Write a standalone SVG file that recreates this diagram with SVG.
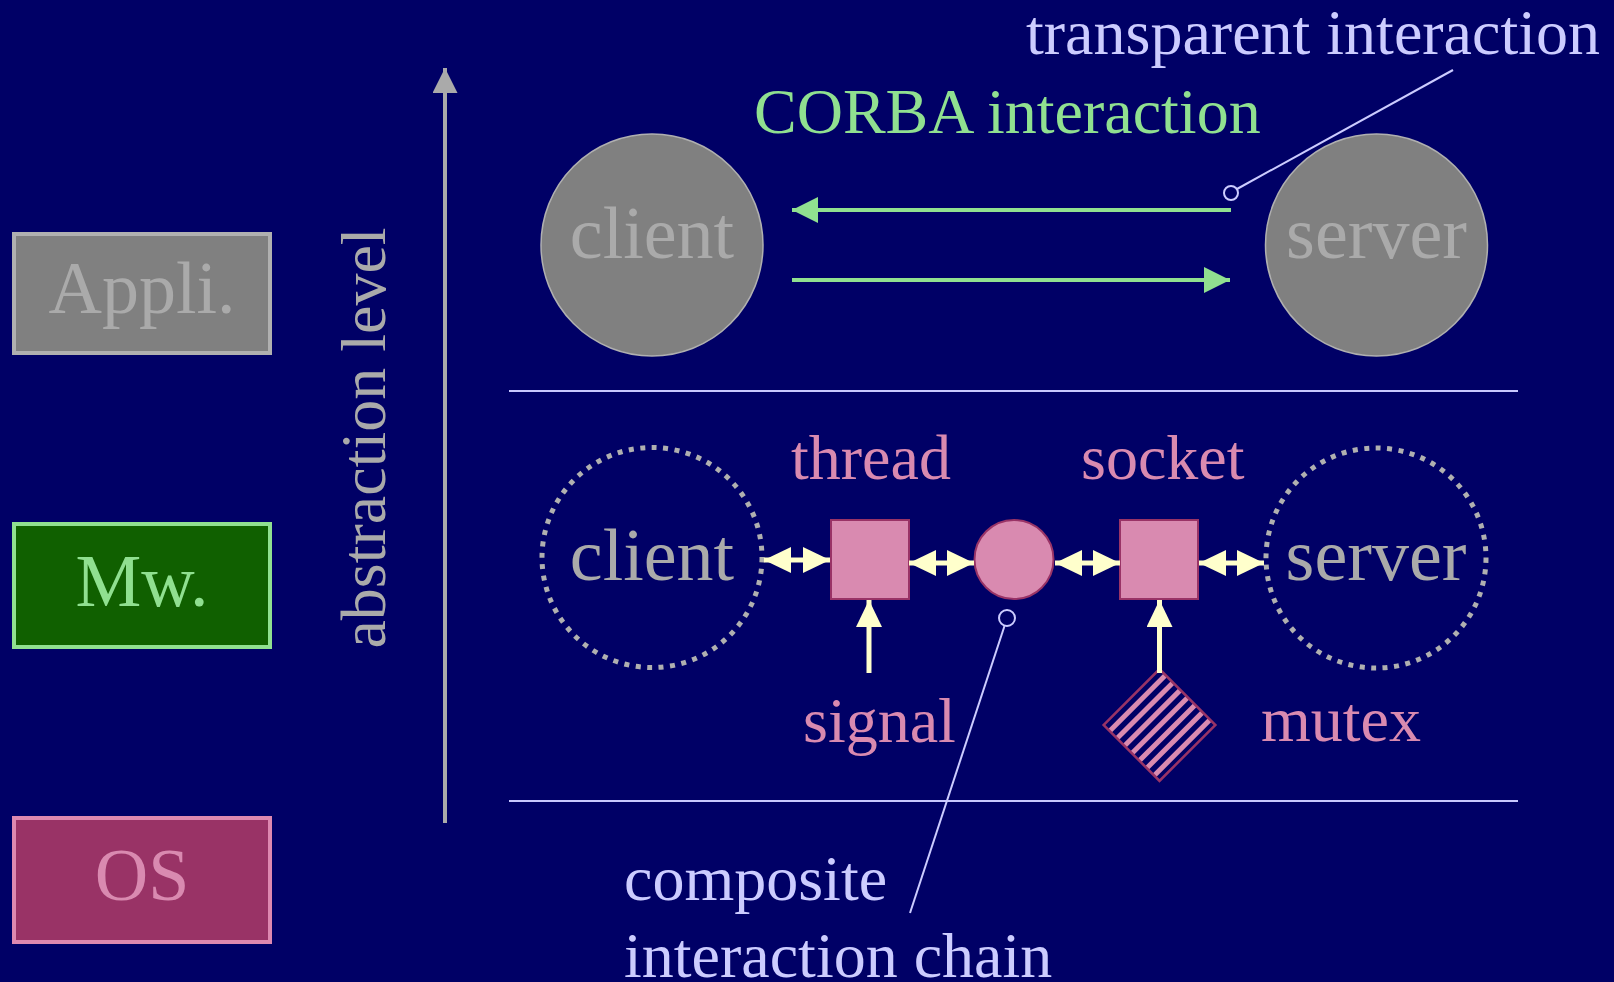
<svg xmlns="http://www.w3.org/2000/svg" width="1614" height="982" viewBox="0 0 1614 982">
<style>
text{font-family:"Liberation Serif","Times New Roman",serif}
.lvl{font-size:74px;text-anchor:middle}
.big{font-size:74px;text-anchor:middle;fill:#AAAAAA}
.lab{font-size:64px}
.pink{fill:#D98AB0}
.lav{fill:#CCCCFF}
.green{fill:#90E090}
.sep{stroke:#C8C8FF;stroke-width:2}
.lead{stroke:#CCCCFF;stroke-width:2;fill:none}
.ga{stroke:#90E090;stroke-width:4}
.ya{stroke:#FFFFCC;stroke-width:5}
.dot{fill:none;stroke:#B0B0B0;stroke-width:5;stroke-dasharray:5 6.5}
.pk{fill:#D98AB0;stroke:#993366;stroke-width:2}
</style>
<defs>
<marker id="gh" viewBox="0 0 26 26" refX="26" refY="13" markerWidth="26" markerHeight="26" markerUnits="userSpaceOnUse" orient="auto"><path d="M0,0 L26,13 L0,26 Z" fill="#90E090"/></marker>
<marker id="yh" viewBox="0 0 27 26" refX="27" refY="13" markerWidth="27" markerHeight="26" markerUnits="userSpaceOnUse" orient="auto-start-reverse"><path d="M0,0 L27,13 L0,26 Z" fill="#FFFFCC"/></marker>
<marker id="vh" viewBox="0 0 25 25" refX="25" refY="12.5" markerWidth="25" markerHeight="25" markerUnits="userSpaceOnUse" orient="auto"><path d="M0,0 L25,12.5 L0,25 Z" fill="#AAAAAA"/></marker>
<clipPath id="dc"><rect x="-39.5" y="-39.5" width="79" height="79"/></clipPath>
</defs>
<rect width="1614" height="982" fill="#000066"/>

<g id="level-appli">
<rect x="14" y="234" width="256" height="119" fill="#808080" stroke="#B0B0B0" stroke-width="4"/>
<text class="lvl" x="142" y="313" fill="#AAAAAA">Appli.</text>
</g>
<g id="level-mw">
<rect x="14" y="524" width="256" height="123" fill="#106000" stroke="#90E090" stroke-width="4"/>
<text class="lvl" x="142" y="606" fill="#90E090">Mw.</text>
</g>
<g id="level-os">
<rect x="14" y="818" width="256" height="124" fill="#993366" stroke="#DD88B0" stroke-width="4"/>
<text class="lvl" x="142" y="900" fill="#D98AB0">OS</text>
</g>

<g id="abstraction-axis">
<line x1="445" y1="823" x2="445" y2="68" stroke="#AAAAAA" stroke-width="4" marker-end="url(#vh)"/>
<text x="0" y="0" transform="translate(385,438) rotate(-90)" style="font-size:64px;text-anchor:middle" fill="#AAAAAA">abstraction level</text>
</g>

<g id="separators">
<line class="sep" x1="509" y1="391" x2="1518" y2="391"/>
<line class="sep" x1="509" y1="801" x2="1518" y2="801"/>
</g>

<g id="client-top">
<circle cx="652" cy="245" r="111" fill="#808080" stroke="#B0B0B0" stroke-width="1.5"/>
<text class="big" x="652" y="258">client</text>
</g>
<g id="server-top">
<circle cx="1376.5" cy="245" r="111" fill="#808080" stroke="#B0B0B0" stroke-width="1.5"/>
<text class="big" x="1376.5" y="258">server</text>
</g>

<g id="client-mid">
<circle class="dot" cx="652" cy="557.5" r="110"/>
<text class="big" x="652" y="580">client</text>
</g>
<g id="server-mid">
<circle class="dot" cx="1376" cy="558" r="110"/>
<text class="big" x="1376" y="580">server</text>
</g>

<g id="thread">
<rect class="pk" x="831" y="520" width="78" height="79"/>
<text class="lab pink" x="791" y="479">thread</text>
</g>
<g id="composite">
<circle class="pk" cx="1014" cy="559.5" r="39.5"/>
</g>
<g id="socket">
<rect class="pk" x="1120" y="520" width="78" height="79"/>
<text class="lab pink" x="1081" y="479">socket</text>
</g>
<g id="signal">
<text class="lab pink" x="803" y="742">signal</text>
</g>
<g id="mutex">
<g transform="translate(1159.5,725) rotate(45)">
<rect x="-39.5" y="-39.5" width="79" height="79" fill="#000066"/>
<g clip-path="url(#dc)" stroke="#D98AB0" stroke-width="5">
<line x1="-31" y1="-45" x2="-31" y2="45"/>
<line x1="-20.5" y1="-45" x2="-20.5" y2="45"/>
<line x1="-10" y1="-45" x2="-10" y2="45"/>
<line x1="0.5" y1="-45" x2="0.5" y2="45"/>
<line x1="11" y1="-45" x2="11" y2="45"/>
<line x1="21.5" y1="-45" x2="21.5" y2="45"/>
<line x1="32" y1="-45" x2="32" y2="45"/>
</g>
<rect x="-39.5" y="-39.5" width="79" height="79" fill="none" stroke="#993366" stroke-width="2.5"/>
</g>
<text class="lab pink" x="1261" y="741">mutex</text>
</g>

<g id="labels">
<text class="lab lav" x="1026" y="54">transparent interaction</text>
<text class="lab green" x="754" y="133">CORBA interaction</text>
<text class="lab lav" x="624" y="900">composite</text>
<text class="lab lav" x="624" y="977">interaction chain</text>
</g>

<g id="connectors">
<line class="ga" x1="1231" y1="210" x2="792" y2="210" marker-end="url(#gh)"/>
<line class="ga" x1="792" y1="280" x2="1230" y2="280" marker-end="url(#gh)"/>
<line class="ya" x1="764" y1="560" x2="830" y2="560" marker-start="url(#yh)" marker-end="url(#yh)"/>
<line class="ya" x1="909" y1="563" x2="974" y2="563" marker-start="url(#yh)" marker-end="url(#yh)"/>
<line class="ya" x1="1055" y1="563" x2="1120" y2="563" marker-start="url(#yh)" marker-end="url(#yh)"/>
<line class="ya" x1="1199" y1="563" x2="1264" y2="563" marker-start="url(#yh)" marker-end="url(#yh)"/>
<line class="ya" x1="869" y1="673" x2="869" y2="600" marker-end="url(#yh)"/>
<line class="ya" x1="1159.5" y1="673" x2="1159.5" y2="600" marker-end="url(#yh)"/>
<line class="lead" x1="1237" y1="189" x2="1453" y2="70"/>
<circle class="lead" cx="1231" cy="193" r="7"/>
<line class="lead" x1="1004.5" y1="626" x2="910" y2="913"/>
<circle class="lead" cx="1007" cy="618" r="8"/>
</g>
</svg>
